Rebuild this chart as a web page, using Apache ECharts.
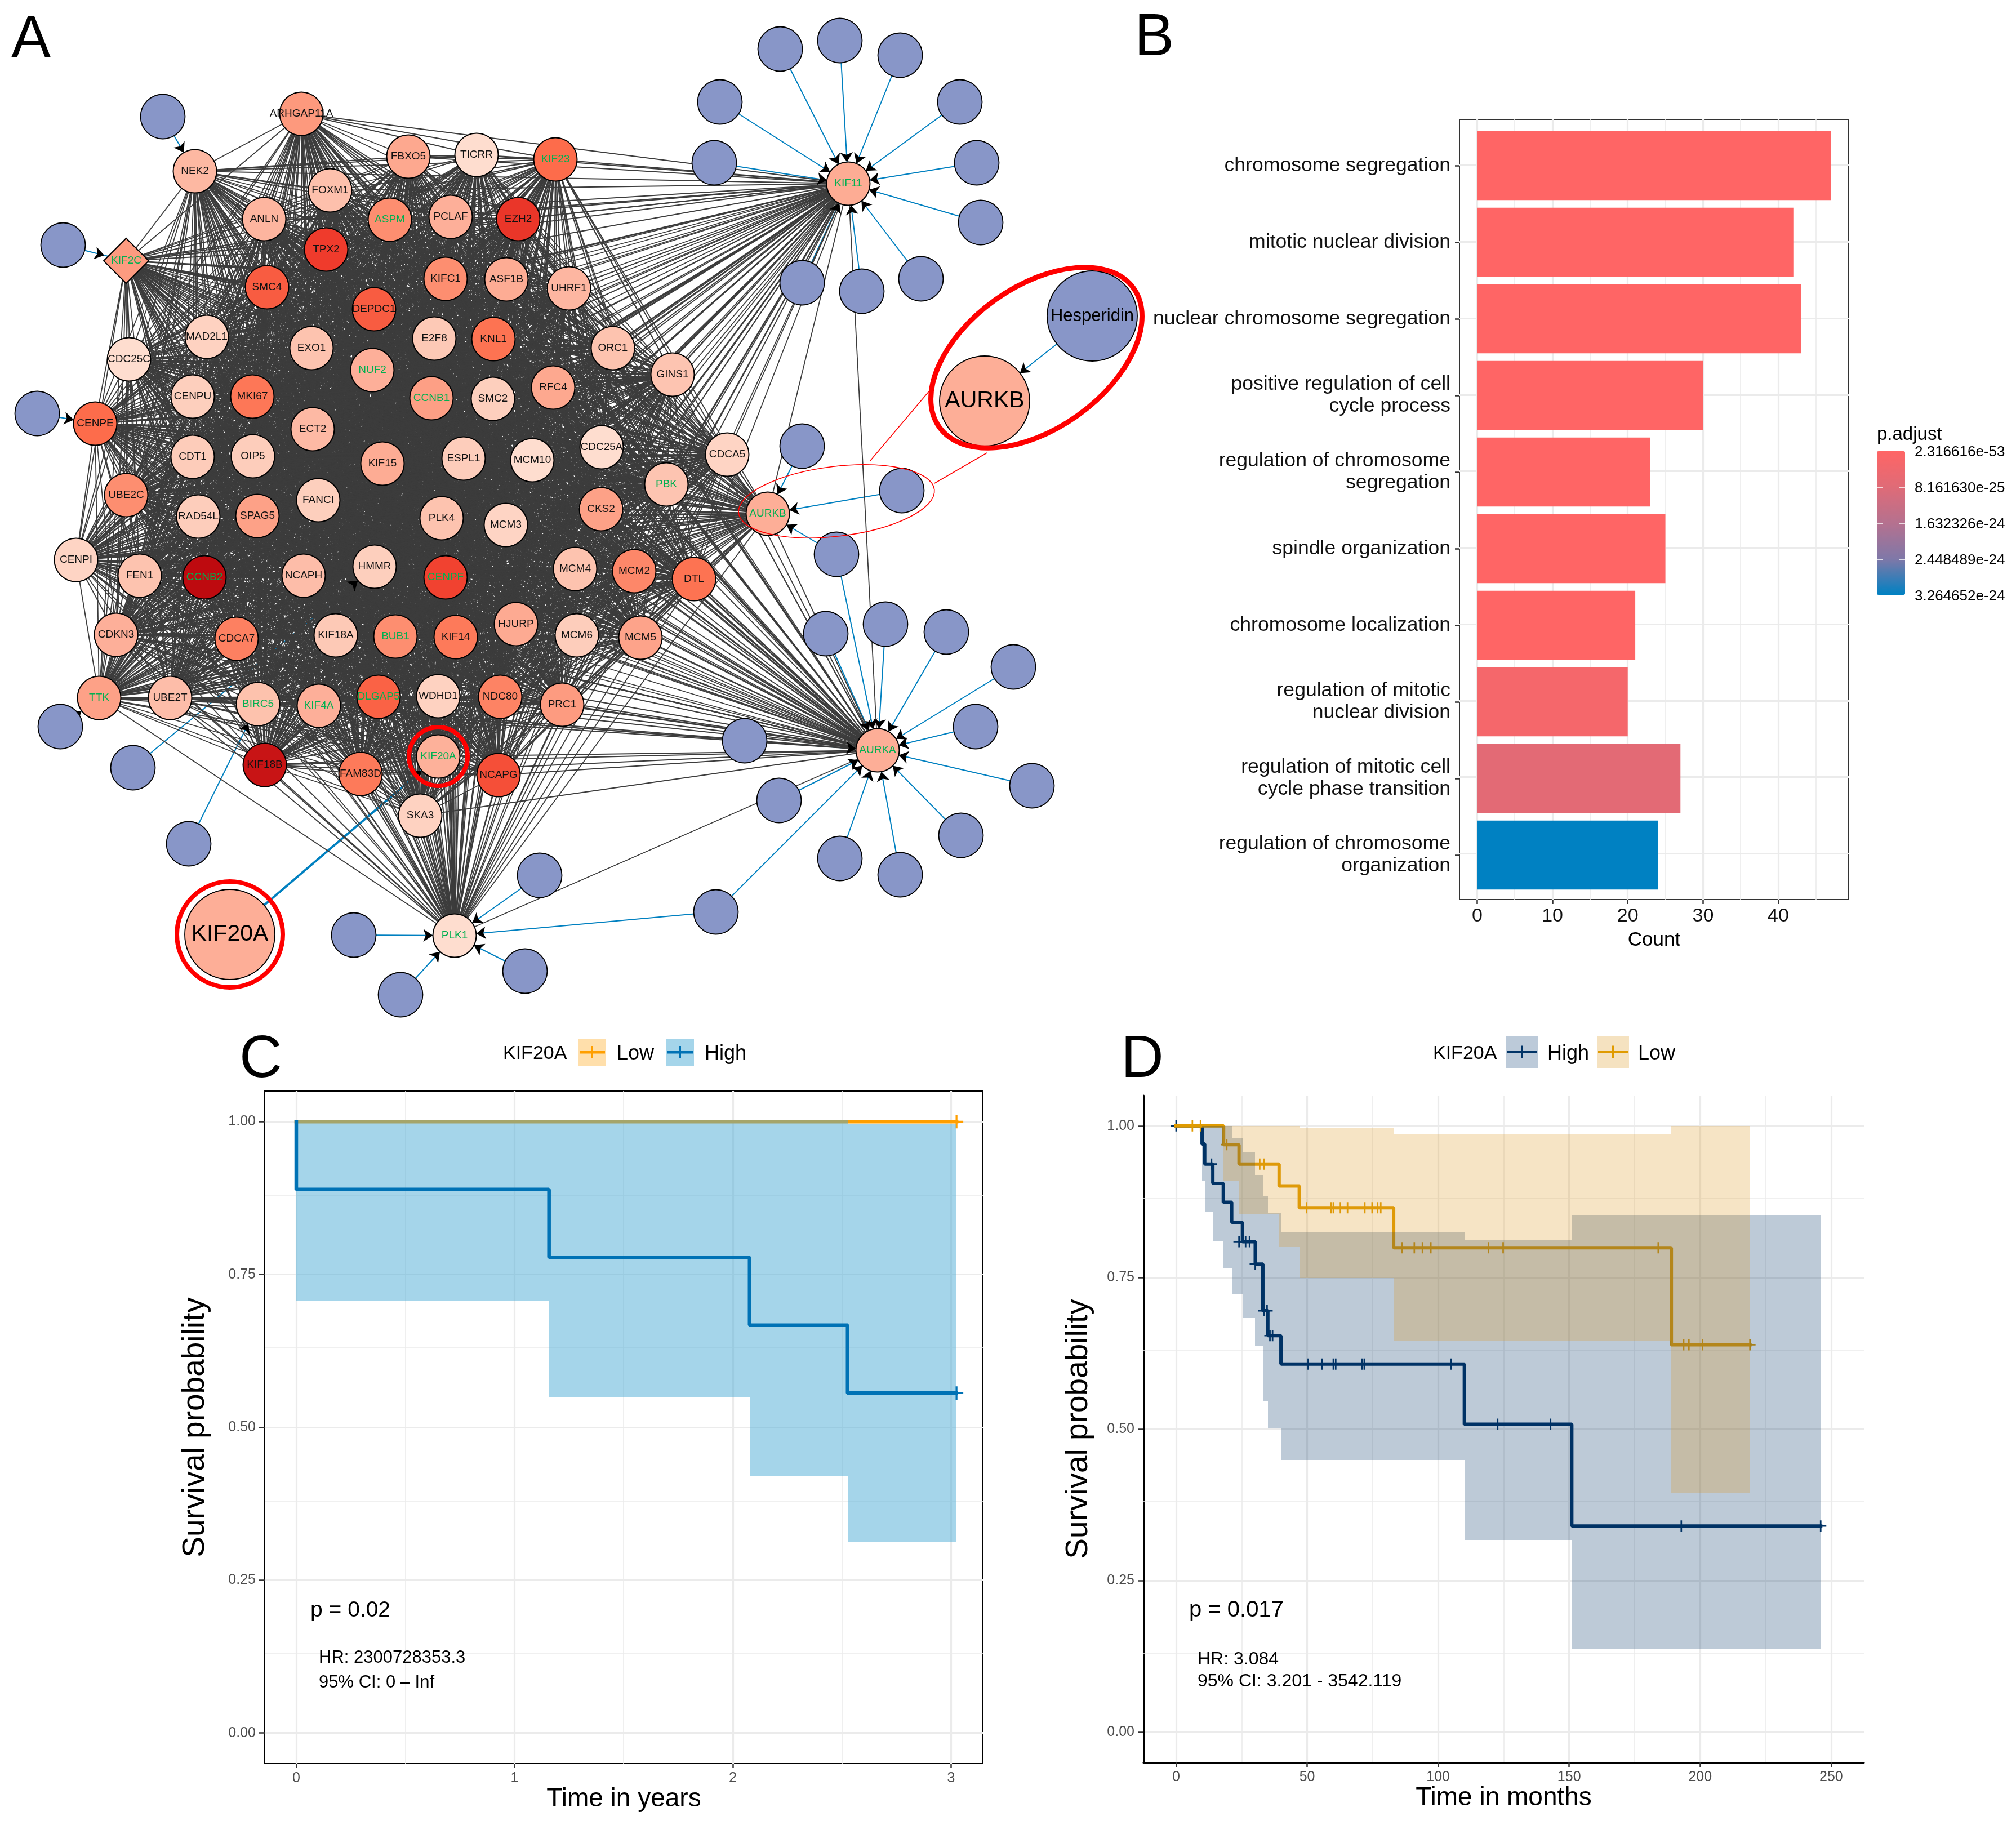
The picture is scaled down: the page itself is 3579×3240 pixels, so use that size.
<!DOCTYPE html>
<html><head><meta charset="utf-8">
<style>html,body{margin:0;padding:0;background:#fff}#c{width:3579px;height:3240px}</style>
<script src="https://cdn.jsdelivr.net/npm/echarts@6/dist/echarts.min.js"></script>
</head><body><div id="c"></div>
<script>
// ---------- Panel A data ----------
const geneNames=['ARHGAP11A','NEK2','FBXO5','TICRR','KIF23','FOXM1','ANLN','ASPM','PCLAF','EZH2','TPX2','KIF2C','SMC4','KIFC1','ASF1B','UHRF1','DEPDC1','MAD2L1','EXO1','E2F8','KNL1','ORC1','CDC25C','NUF2','RFC4','CENPU','MKI67','CCNB1','SMC2','CENPE','ECT2','CDT1','OIP5','KIF15','ESPL1','MCM10','CDC25A','UBE2C','RAD54L','SPAG5','FANCI','PLK4','MCM3','CKS2','CENPI','FEN1','CCNB2','NCAPH','HMMR','CENPF','MCM4','CDKN3','CDCA7','KIF18A','BUB1','KIF14','HJURP','MCM6','TTK','UBE2T','BIRC5','KIF4A','DLGAP5','WDHD1','NDC80','PRC1','KIF18B','FAM83D','KIF20A','NCAPG','SKA3','PLK1','GINS1','CDCA5','PBK','MCM2','DTL','MCM5','KIF11','AURKB','AURKA'];
const geneX=[535,346,725,846,986,586,469,692,800,920,579,224,474,791,899,1010,664,367,553,771,876,1088,229,661,982,342,448,766,875,169,555,342,449,679,823,945,1068,224,352,457,565,784,898,1067,135,248,363,539,665,791,1021,206,420,596,702,809,916,1024,176,302,458,566,672,778,888,998,470,640,778,885,746,807,1194,1291,1183,1126,1232,1137,1506,1363,1558];
const geneY=[202,304,278,275,283,338,389,390,385,389,443,463,510,495,496,512,549,598,618,601,602,618,638,657,688,704,704,707,708,752,762,811,810,823,814,817,794,879,917,916,888,920,932,904,994,1022,1025,1022,1006,1025,1010,1127,1134,1128,1130,1131,1108,1128,1239,1239,1250,1253,1237,1236,1237,1251,1358,1374,1343,1376,1448,1661,665,807,860,1014,1028,1132,326,912,1332];
const geneScore=[45,28,38,2,65,22,30,50,34,82,80,44,70,50,36,29,70,10,20,16,62,20,2,34,38,12,60,42,12,65,27,14,13,36,13,2,2,50,13,41,12,20,8,41,8,20,100,24,12,78,20,34,56,16,50,59,37,13,41,24,21,34,68,10,55,44,96,59,33,74,10,2,19,8,19,53,62,40,36,35,35];
const greenGenes=['KIF2C','ASPM','KIF23','NUF2','CCNB1','PBK','AURKB','KIF11','CCNB2','CENPF','BUB1','TTK','BIRC5','KIF4A','DLGAP5','KIF20A','AURKA','PLK1'];
const diamondGenes=['KIF2C'];
const drugX=[1278,1385,1491,1598,1704,1734,1741,1635,1530,1424,1268,1424,1601,1485,1466,1572,1680,1799,1732,1832,1706,1598,1491,1383,1322,1271,107,236,335,958,628,711,932,289,112,66];
const drugY=[181,87,72,98,181,289,395,495,517,502,289,792,871,984,1125,1108,1122,1184,1290,1395,1483,1553,1524,1421,1315,1619,1290,1363,1498,1554,1660,1766,1724,207,435,734];
const drugTargets=[['KIF11'],['KIF11'],['KIF11'],['KIF11'],['KIF11'],['KIF11'],['KIF11'],['KIF11'],['KIF11'],['KIF11'],['KIF11'],['AURKB'],['AURKB'],['AURKB','AURKA'],['AURKA'],['AURKA'],['AURKA'],['AURKA'],['AURKA'],['AURKA'],['AURKA'],['AURKA'],['AURKA'],['AURKA'],['AURKA'],['AURKA','PLK1'],['TTK'],['HMMR'],['BIRC5'],['PLK1'],['PLK1'],['PLK1'],['PLK1'],['NEK2'],['KIF2C'],['CENPE']];
const calloutNames=['KIF20A','AURKB','Hesperidin'];
const calloutX=[408,1748,1939];
const calloutY=[1659,712,561];
// ---------- Panel B data ----------
const goTerms=['chromosome segregation','mitotic nuclear division','nuclear chromosome segregation','positive regulation of cell\ncycle process','regulation of chromosome\nsegregation','spindle organization','chromosome localization','regulation of mitotic\nnuclear division','regulation of mitotic cell\ncycle phase transition','regulation of chromosome\norganization'];
const goCounts=[47,42,43,30,23,25,21,20,27,24];
const goPadj=[2.316616e-53,1e-50,1e-49,1e-40,1e-35,1e-32,1e-30,2.5e-25,7.2e-25,3.264652e-24];
const padjTicks=['2.316616e-53','8.161630e-25','1.632326e-24','2.448489e-24','3.264652e-24'];
// ---------- Panel C data ----------
const cLowTime=[0,3.025];
const cLowSurv=[1,1];
const cHighTime=[0,0,1.158,2.077,2.526,3.022];
const cHighSurv=[1,0.889,0.778,0.667,0.556,0.556];
const cBandStart=[0,1.158,2.077,2.526];
const cBandEnd=[1.158,2.077,2.526,3.022];
const cBandLower=[0.707,0.55,0.421,0.312];
const cBandUpper=[1.002,1.002,1.002,0.997];
const cLowCensorTime=[3.025];const cLowCensorSurv=[1];
const cHighCensorTime=[3.025];const cHighCensorSurv=[0.556];
// ---------- Panel D data ----------
const dHighTime=[0,9.9,10.9,14,18,21.2,25.3,30.2,33.1,35,40,110,151,246];
const dHighSurv=[1,0.97,0.937,0.905,0.874,0.841,0.809,0.772,0.695,0.654,0.607,0.508,0.34,0.34];
const dLowTime=[0,18.1,24,39.3,47,83,189,219];
const dLowSurv=[1,0.969,0.937,0.901,0.865,0.799,0.639,0.639];
const dHighBandStart=[9.9,10.9,14,18,21.2,25.3,30.2,33.1,35,40,110,151];
const dHighBandEnd=[10.9,14,18,21.2,25.3,30.2,33.1,35,40,110,151,246];
const dHighBandLower=[0.91,0.858,0.81,0.765,0.723,0.683,0.637,0.546,0.501,0.449,0.317,0.137];
const dHighBandUpper=[1,1,1,1,0.979,0.957,0.919,0.885,0.857,0.825,0.811,0.853];
const dLowBandStart=[18.1,24,39.3,47,83,189];
const dLowBandEnd=[24,39.3,47,83,189,219];
const dLowBandLower=[0.91,0.855,0.80,0.749,0.646,0.394];
const dLowBandUpper=[1,1,1,0.997,0.986,1];
const dHighCensorTime=[0,13.5,24,26.5,28,30.2,33.5,34.7,35.8,36.8,50.4,55.7,60,60.9,71,71.8,105,122.7,142.9,192.8,246];
const dHighCensorSurv=[1,0.937,0.809,0.809,0.809,0.772,0.695,0.695,0.654,0.654,0.607,0.607,0.607,0.607,0.607,0.607,0.607,0.508,0.508,0.34,0.34];
const dLowCensorTime=[6.2,9.3,19.3,31.9,33.5,49.8,59.2,60,62.7,65.4,72,74.8,76.9,78.1,86.3,90.9,94,97.2,119.2,124.8,184,193.7,195.7,200.9,219];
const dLowCensorSurv=[1,1,0.969,0.937,0.937,0.865,0.865,0.865,0.865,0.865,0.865,0.865,0.865,0.865,0.799,0.799,0.799,0.799,0.799,0.799,0.799,0.639,0.639,0.639,0.639];

// ---------- helpers ----------
const FONT='"Liberation Sans",Arial,sans-serif';
const zip=(a,b)=>a.map((v,i)=>[v,b[i]]);
const scoreStops=[[0,[254,224,210]],[20,[253,195,175]],[35,[253,174,151]],[50,[253,142,112]],[65,[253,108,75]],[80,[239,59,44]],[100,[190,10,15]]];
function scoreColor(s){for(let i=1;i<scoreStops.length;i++){if(s<=scoreStops[i][0]){const [a,ca]=scoreStops[i-1],[b,cb]=scoreStops[i];const t=(s-a)/(b-a);return 'rgb('+ca.map((c,k)=>Math.round(c+(cb[k]-c)*t)).join(',')+')';}}return 'rgb(190,10,15)';}
function bandRender(color){return (params,api)=>{const a=api.coord([api.value(0),api.value(3)]),b=api.coord([api.value(1),api.value(2)]);const x0=Math.round(a[0]),x1=Math.round(b[0]),y0=Math.round(a[1]),y1=Math.round(b[1]);return {type:'rect',shape:{x:x0,y:y0,width:x1-x0,height:y1-y0},style:{fill:color}};};}
const PLUS='path://M9.5 0h3v9.5h9.5v3h-9.5v9.5h-3v-9.5h-9.5v-3h9.5z';

// ---------- network ----------
const graphNodes=[],graphLinks=[];
geneNames.forEach((n,i)=>graphNodes.push({name:n,value:[geneX[i],geneY[i]],symbol:diamondGenes.includes(n)?'diamond':'circle',symbolSize:diamondGenes.includes(n)?80:77,itemStyle:{color:scoreColor(geneScore[i]),borderColor:'#000',borderWidth:2},label:{show:true,position:'inside',formatter:n,fontFamily:FONT,fontSize:19,color:greenGenes.includes(n)?'#00B050':'#111'}}));
drugX.forEach((x,i)=>graphNodes.push({name:'drug'+i,value:[x,drugY[i]],symbolSize:79,itemStyle:{color:'#8896C8',borderColor:'#000',borderWidth:1.8},label:{show:false}}));
const calloutStart=graphNodes.length;
calloutNames.forEach((n,i)=>graphNodes.push({name:'callout'+n,value:[calloutX[i],calloutY[i]],symbolSize:160,itemStyle:{color:n==='Hesperidin'?'#8896C8':scoreColor(35),borderColor:'#000',borderWidth:1.8},label:{show:true,position:'inside',formatter:n,fontFamily:FONT,fontSize:n==='Hesperidin'?31:41,color:'#000'}}));
const G=geneNames.length;
const blueLink=(s,t,w)=>({source:s,target:t,symbol:['none','none'],lineStyle:{color:'#0080C0',width:w||2,opacity:1,curveness:0}});
const arrowLink=(s,t)=>({source:s,target:t,symbol:['none','arrow'],symbolSize:[0,17],lineStyle:{color:'#000',width:0,opacity:1,curveness:0}});
const arrows=[];
drugTargets.forEach((ts,i)=>ts.forEach(t=>{graphLinks.push(blueLink(G+i,geneNames.indexOf(t)));arrows.push(arrowLink(G+i,geneNames.indexOf(t)));}));
graphLinks.push(blueLink(calloutStart,geneNames.indexOf('KIF20A'),4));arrows.push(arrowLink(calloutStart,geneNames.indexOf('KIF20A')));
graphLinks.push(blueLink(calloutStart+2,calloutStart+1,2));arrows.push(arrowLink(calloutStart+2,calloutStart+1));
for(let i=0;i<G;i++)for(let j=i+1;j<G;j++){graphLinks.push({source:i,target:j,symbol:['none','none'],lineStyle:{color:'#3c3c3c',width:1.8,opacity:1,curveness:0}});}
arrows.forEach(a=>graphLinks.push(a));

// ---------- survival axis helpers ----------
const GRIDC='#EBEBEB';
function minorLines(xs,ys,color){return {type:'line',data:[],xAxisIndex:xs.idx,yAxisIndex:xs.idx,silent:true,z:1,markLine:{z:1,silent:true,animation:false,symbol:['none','none'],label:{show:false},lineStyle:{color:color||GRIDC,width:1.6,type:'solid'},data:xs.v.map(v=>({xAxis:v})).concat(ys.map(v=>({yAxis:v})))}};}
function kmX(idx,min,max,ticks,name,gap,lw){return {type:'value',gridIndex:idx,min,max,name,nameLocation:'middle',nameGap:gap,nameTextStyle:{fontFamily:FONT,fontSize:46,color:'#000'},axisLine:{show:lw>0,onZero:false,lineStyle:{color:'#000',width:lw}},axisTick:{show:true,customValues:ticks,length:8,lineStyle:{color:'#333',width:2.5}},axisLabel:{customValues:ticks,margin:14,fontFamily:FONT,fontSize:25,color:'#4D4D4D'},splitLine:{show:true,lineStyle:{color:GRIDC,width:3.2}}};}
function kmY(idx,gap,lw){const ticks=[0,0.25,0.5,0.75,1];return {type:'value',gridIndex:idx,min:-0.05,max:1.05,name:'Survival probability',nameLocation:'middle',nameGap:gap,nameTextStyle:{fontFamily:FONT,fontSize:55,color:'#000'},axisLine:{show:lw>0,onZero:false,lineStyle:{color:'#000',width:lw}},axisTick:{show:true,customValues:ticks,length:10,lineStyle:{color:'#333',width:2.5}},axisLabel:{customValues:ticks,margin:16,fontFamily:FONT,fontSize:25,color:'#4D4D4D',formatter:v=>v.toFixed(2)},splitLine:{show:true,lineStyle:{color:GRIDC,width:3.2}}};}
const stepLine=(idx,t,s,color,w)=>({type:'line',xAxisIndex:idx,yAxisIndex:idx,step:'end',showSymbol:false,silent:true,data:zip(t,s),lineStyle:{color,width:w,cap:'square'}});
const censor=(idx,t,s,color,size)=>({type:'scatter',xAxisIndex:idx,yAxisIndex:idx,silent:true,symbol:PLUS,symbolSize:size,data:zip(t,s),itemStyle:{color,opacity:1}});
const band=(idx,a,b,lo,hi,color)=>({type:'custom',xAxisIndex:idx,yAxisIndex:idx,silent:true,renderItem:bandRender(color),data:a.map((v,i)=>[v,b[i],lo[i],hi[i]]),encode:{x:[0,1],y:[2,3]},clip:true});

const COL={cLow:'#FF9F00',cHigh:'#0072B5',dHigh:'#003366',dLow:'#E09B00'};
const series=[
 {type:'graph',coordinateSystem:'cartesian2d',xAxisIndex:0,yAxisIndex:0,silent:true,animation:false,data:graphNodes,links:graphLinks,edgeSymbol:['none','none'],emphasis:{disabled:true},z:3},
 // Panel B
 minorLines({idx:1,v:[5,15,25,35,45]},[]),
 {type:'bar',xAxisIndex:2,yAxisIndex:2,silent:true,barCategoryGap:'10%',data:goCounts.map((c,i)=>[c,i,goPadj[i]]),encode:{x:0,y:1},z:3},
 // Panel C
 minorLines({idx:3,v:[0.5,1.5,2.5]},[0.125,0.375,0.625,0.875]),
 stepLine(3,cLowTime,cLowSurv,COL.cLow,6.5),
 censor(3,cLowCensorTime,cLowCensorSurv,COL.cLow,24),
 band(3,cBandStart,cBandEnd,cBandLower,cBandUpper,'rgba(75,171,213,0.5)'),
 stepLine(3,cHighTime,cHighSurv,COL.cHigh,6.5),
 censor(3,cHighCensorTime,cHighCensorSurv,COL.cHigh,24),
 // Panel D
 minorLines({idx:4,v:[25,75,125,175,225]},[0.125,0.375,0.625,0.875]),
 stepLine(4,dHighTime,dHighSurv,COL.dHigh,6),
 censor(4,dHighCensorTime,dHighCensorSurv,COL.dHigh,20),
 stepLine(4,dLowTime,dLowSurv,COL.dLow,6),
 censor(4,dLowCensorTime,dLowCensorSurv,COL.dLow,20),
 band(4,dHighBandStart,dHighBandEnd,dHighBandLower,dHighBandUpper,'rgba(0,51,102,0.26)'),
 band(4,dLowBandStart,dLowBandEnd,dLowBandLower,dLowBandUpper,'rgba(219,150,30,0.26)')
];
series.forEach((s,i)=>{if(s.z===undefined)s.z=2+i*0.01;});

// ---------- graphic annotations ----------
const text=(x,y,t,size,opt)=>Object.assign({type:'text',z:200,x,y:y+2,silent:true,style:Object.assign({text:t,fontFamily:FONT,fontSize:size,fill:'#000',textAlign:'left',textVerticalAlign:'middle'},opt||{})});
const redStroke=w=>({fill:'none',stroke:'#FF0000',lineWidth:w});
const hairline=(x1,y1,x2,y2,c,w)=>({type:'line',z:200,silent:true,shape:{x1,y1,x2,y2},style:{stroke:c,lineWidth:w}});
function legendKey(x,y,w,h,fill,line,lw){const cy=y+h/2,cx=x+w/2;return [
 {type:'rect',z:200,silent:true,shape:{x,y,width:w,height:h},style:{fill}},
 hairline(x+2,cy,x+w-2,cy,line,lw),hairline(cx,cy-11,cx,cy+11,line,3)];}
const graphic=[].concat(
 [text(20,70,'A',105),text(2014,67,'B',105),text(425,1881,'C',105),text(1990,1881,'D',105)],
 // callout rings
 [{type:'circle',z:200,silent:true,shape:{cx:778,cy:1343,r:52},style:redStroke(8)},
  {type:'circle',z:200,silent:true,shape:{cx:408,cy:1659,r:94},style:redStroke(8)},
  {type:'ellipse',z:200,silent:true,x:1840,y:635,rotation:0.62,shape:{cx:0,cy:0,rx:212,ry:126},style:redStroke(9)},
  {type:'ellipse',z:200,silent:true,x:1485,y:890,rotation:0.12,shape:{cx:0,cy:0,rx:175,ry:62},style:redStroke(1.6)},
  hairline(1544,819,1649,695,'#FF0000',1.6),hairline(1659,858,1752,804,'#FF0000',1.6)],
 // Panel B colour bar
 [text(3332,770,'p.adjust',33)],
 padjTicks.map((t,i)=>text(3399,801+i*63.9,t,26)),
 [865,929,993].flatMap(y=>[hairline(3332,y,3342,y,'#fff',1.5),hairline(3372,y,3382,y,'#fff',1.5)]),
 // Panel C legend + notes
 [text(893,1869,'KIF20A',34)],legendKey(1027,1844,49,48,'#FFDFAB',COL.cLow,5),[text(1095,1869,'Low',36)],legendKey(1183,1844,49,48,'#A5D5EA',COL.cHigh,5),[text(1251,1869,'High',36)],
 [text(551,2857,'p = 0.02',39),text(566,2941,'HR: 2300728353.3',31),text(566,2985,'95% CI: 0 \u2013 Inf',31)],
 // Panel D legend + notes
 [text(2544,1869,'KIF20A',34)],legendKey(2673,1839,57,57,'#BCCAD9',COL.dHigh,5),[text(2747,1869,'High',36)],legendKey(2835,1839,57,57,'#F5E2C0',COL.dLow,5),[text(2908,1869,'Low',36)],
 [text(2111,2857,'p = 0.017',40),text(2126,2944,'HR: 3.084',32),text(2126,2983,'95% CI: 3.201 - 3542.119',32)]
);

// ---------- option ----------
const bTicks=[0,10,20,30,40];
const option={
 animation:false,backgroundColor:'#fff',
 textStyle:{fontFamily:FONT},
 grid:[
  {left:0,top:0,width:2000,height:1830,show:false},
  {left:2591,top:212,width:691,height:1385,show:true,borderColor:'#333',borderWidth:2,backgroundColor:'transparent'},
  {left:2591,top:226,width:691,height:1360,show:false},
  {left:470,top:1937,width:1275,height:1194,show:true,borderColor:'#000',borderWidth:2,backgroundColor:'transparent'},
  {left:2030,top:1945,width:1279,height:1184,show:false}
 ],
 xAxis:[
  {type:'value',gridIndex:0,min:0,max:2000,show:false},
  {type:'value',gridIndex:1,min:-2.35,max:49.35,name:'Count',nameLocation:'middle',nameGap:55,nameTextStyle:{fontFamily:FONT,fontSize:35,color:'#000'},axisLine:{show:false,onZero:false},axisTick:{show:true,customValues:bTicks,length:8,lineStyle:{color:'#333',width:2.5}},axisLabel:{customValues:bTicks,margin:13,fontFamily:FONT,fontSize:34,color:'#111'},splitLine:{show:true,lineStyle:{color:GRIDC,width:3.2}}},
  {type:'value',gridIndex:2,min:-2.35,max:49.35,show:false},
  kmX(3,-0.1445,3.146,[0,1,2,3],'Time in years',38,0),
  kmX(4,-12.47,262.5,[0,50,100,150,200,250],'Time in months',38,3)
 ],
 yAxis:[
  {type:'value',gridIndex:0,min:0,max:1830,inverse:true,show:false},
  {type:'value',gridIndex:1,min:0.4,max:10.6,inverse:true,axisLine:{show:false,onZero:false},axisTick:{show:false,customValues:[1,2,3,4,5,6,7,8,9,10]},axisLabel:{show:false},splitLine:{show:true,lineStyle:{color:GRIDC,width:3.2}}},
  {type:'category',gridIndex:2,data:goTerms,inverse:true,axisLine:{show:false,onZero:false},axisTick:{show:true,alignWithLabel:true,length:8,lineStyle:{color:'#333',width:2.5}},axisLabel:{margin:16,interval:0,align:'right',fontFamily:FONT,fontSize:35.6,lineHeight:39,padding:[8,0,0,0],color:'#111'},splitLine:{show:false}},
  kmY(3,96,0),
  kmY(4,88,3)
 ],
 visualMap:[{type:'continuous',show:true,seriesIndex:2,dimension:2,min:2.316616e-53,max:3.264652e-24,left:3332,top:801,itemWidth:50,itemHeight:255,inverse:true,calculable:false,realtime:false,showLabel:false,text:null,padding:0,hoverLink:false,inRange:{color:['#FF6565','#DF6B77','#B5718F','#7F78A8','#0081C2']}}],
 graphic:{elements:graphic},
 series
};
const chart=echarts.init(document.getElementById('c'),null,{renderer:'canvas',width:3579,height:3240});
chart.setOption(option);
</script></body></html>
